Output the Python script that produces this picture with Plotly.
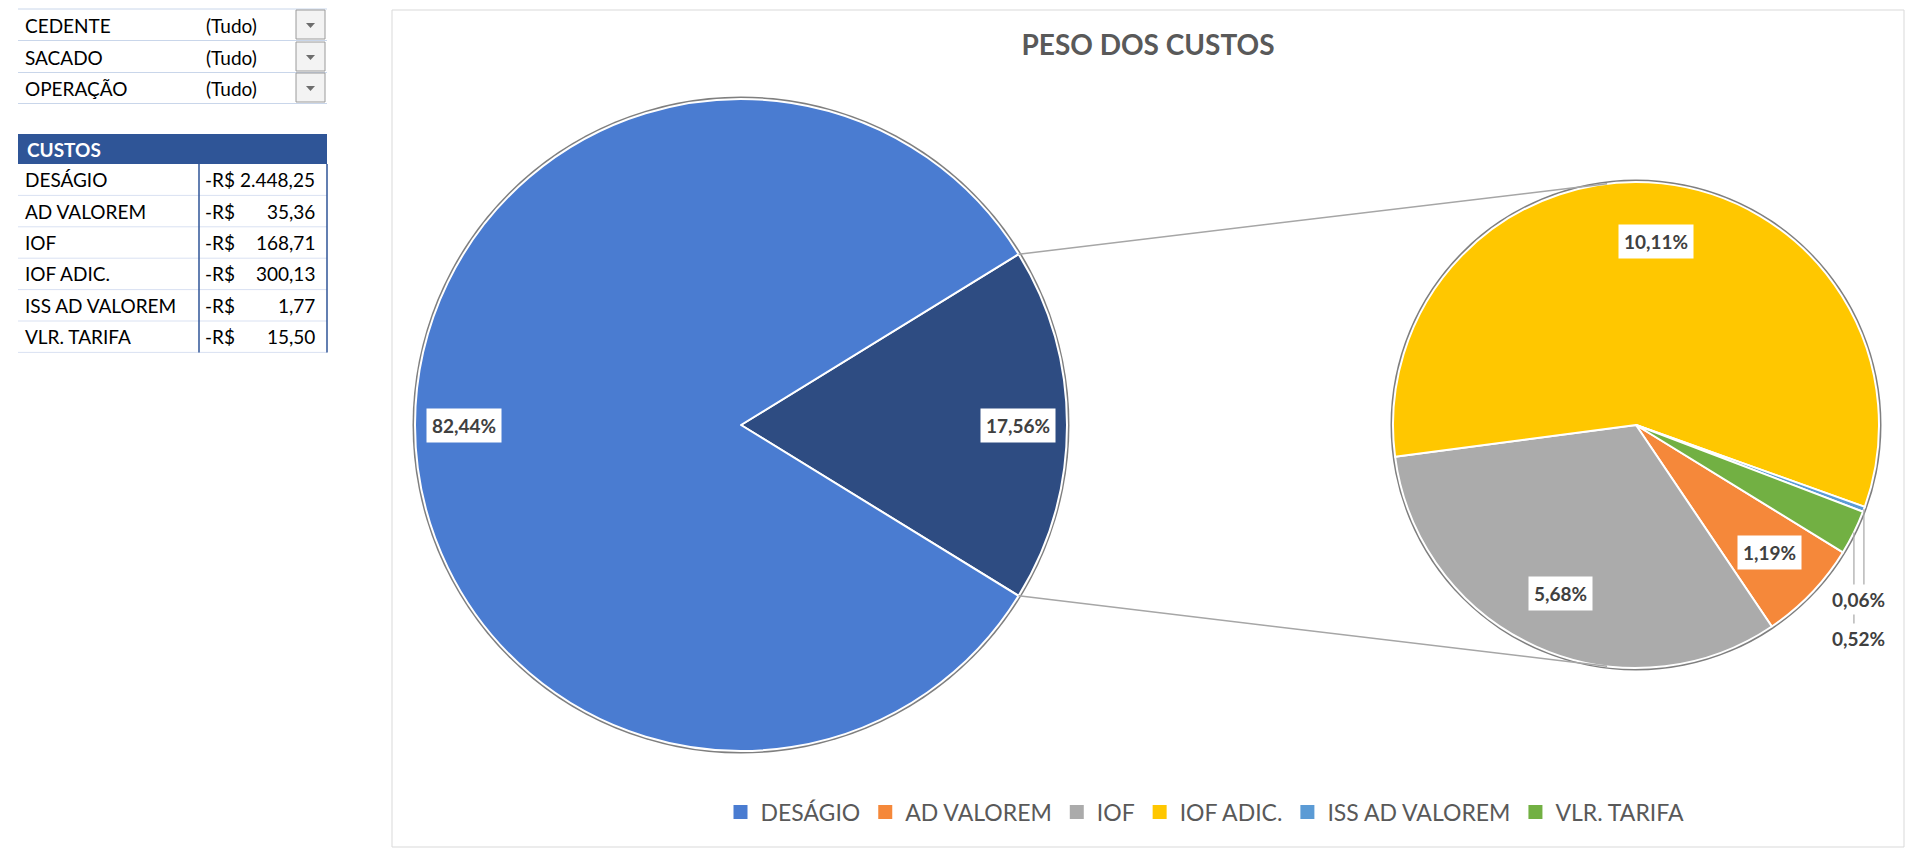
import math
import plotly.graph_objects as go

W, H = 1920, 863

# ---------------- data ----------------
filter_labels = ["CEDENTE", "SACADO", "OPERAÇÃO"]
filter_values = ["(Tudo)", "(Tudo)", "(Tudo)"]
cost_header = "CUSTOS"
cost_labels = ["DESÁGIO", "AD VALOREM", "IOF", "IOF ADIC.", "ISS AD VALOREM", "VLR. TARIFA"]
cost_values = [2448.25, 35.36, 168.71, 300.13, 1.77, 15.50]
chart_title = "PESO DOS CUSTOS"
main_category = "DESÁGIO"
other_label = "Outros"
secondary_categories = ["AD VALOREM", "IOF", "IOF ADIC.", "ISS AD VALOREM", "VLR. TARIFA"]

# ---------------- style ----------------
FONT = "Lato"
slice_colors = {
    "DESÁGIO": "#4A7CD1",
    "AD VALOREM": "#F5883A",
    "IOF": "#ABABAB",
    "IOF ADIC.": "#FFC700",
    "ISS AD VALOREM": "#5B9BD5",
    "VLR. TARIFA": "#72B043",
}
other_color = "#2E4C82"
label_color = "#404040"
text_gray = "#595959"

MAIN_C, MAIN_R = (741, 425), 326
SEC_C, SEC_R = (1636, 425), 243


def px(x):
    return x / W


def py(y):
    return 1 - y / H


def fmt_br(v, dec=2):
    s = f"{v:,.{dec}f}"
    return s.replace(",", "X").replace(".", ",").replace("X", ".")


def domain(c, r):
    return dict(x=[px(c[0] - r), px(c[0] + r)], y=[py(c[1] + r), py(c[1] - r)])


def point(c, r, ang):
    a = math.radians(ang)
    return (c[0] + r * math.sin(a), c[1] - r * math.cos(a))


def mids(values, rotation):
    tot = sum(values)
    cur = rotation
    out = []
    for v in values:
        w = 360 * v / tot
        out.append(cur + w / 2)
        cur += w
    return out


val = dict(zip(cost_labels, cost_values))
total = sum(cost_values)
sec_values = [val[k] for k in secondary_categories]
other_total = sum(sec_values)
half_w = 180 * other_total / total

main_labels = [other_label, main_category]
main_values = [other_total, val[main_category]]
main_rot = 90 - half_w
sec_rot = 90 + half_w

fig = go.Figure()

fig.add_trace(go.Pie(
    labels=main_labels, values=main_values, sort=False, direction="clockwise",
    rotation=main_rot, domain=domain(MAIN_C, MAIN_R), textinfo="none",
    marker=dict(colors=[other_color, slice_colors[main_category]], line=dict(color="white", width=2)),
    showlegend=False, hoverinfo="label+percent",
))
fig.add_trace(go.Pie(
    labels=secondary_categories, values=sec_values, sort=False, direction="clockwise",
    rotation=sec_rot, domain=domain(SEC_C, SEC_R), textinfo="none",
    marker=dict(colors=[slice_colors[k] for k in secondary_categories], line=dict(color="white", width=2)),
    showlegend=False, hoverinfo="label+value",
))

# legend entries
for lab in cost_labels:
    fig.add_trace(go.Scatter(
        x=[None], y=[None], mode="markers", name=lab,
        marker=dict(symbol="square", size=14, color=slice_colors[lab]),
    ))

shapes = []
annotations = []

# chart frame
shapes.append(dict(type="rect", xref="paper", yref="paper", x0=px(392), x1=px(1904), y0=py(847), y1=py(10),
                   line=dict(color="#D9D9D9", width=1), layer="below"))

# gray rims under the pies
for c, r in [(MAIN_C, MAIN_R), (SEC_C, SEC_R)]:
    shapes.append(dict(type="circle", xref="paper", yref="paper",
                       x0=px(c[0] - r - 2.5), x1=px(c[0] + r + 2.5), y0=py(c[1] + r + 2.5), y1=py(c[1] - r - 2.5),
                       fillcolor="#7F7F7F", line=dict(width=0), layer="below"))


def pct_text(v):
    return fmt_br(100 * v / total) + "%"


def label_ann(x, y, text, pad=5):
    annotations.append(dict(
        x=px(x), y=py(y), xref="paper", yref="paper", text=f"<b>{text}</b>", showarrow=False,
        font=dict(family=FONT, size=19, color=label_color), bgcolor="white", borderpad=pad,
        xanchor="center", yanchor="middle"))


# main pie labels
for lab, v, m in zip(main_labels, main_values, mids(main_values, main_rot)):
    x, y = point(MAIN_C, MAIN_R * 0.85, m)
    label_ann(x, y, pct_text(v))

# secondary pie labels
sec_mids = mids(sec_values, sec_rot)
outside = []
for lab, v, m in zip(secondary_categories, sec_values, sec_mids):
    if v / total < 0.01:
        outside.append((lab, v, m))
        continue
    x, y = point(SEC_C, SEC_R * 0.76, m)
    label_ann(x, y, pct_text(v))

if outside:
    edges = [point(SEC_C, SEC_R, m) for _, _, m in outside]
    lx = sum(e[0] for e in edges) / len(edges)
    for k, ((lab, v, m), e) in enumerate(zip(outside, edges)):
        ly = SEC_C[1] + SEC_R * 0.72 + k * 39
        shapes.append(dict(type="line", xref="paper", yref="paper", x0=px(e[0]), x1=px(e[0]),
                           y0=py(e[1]), y1=py(ly - 13), line=dict(color="#A6A6A6", width=1.2)))
        annotations.append(dict(
            x=px(lx), y=py(ly), xref="paper", yref="paper", text=f"<b>{pct_text(v)}</b>", showarrow=False,
            font=dict(family=FONT, size=19, color=label_color), bgcolor="white", borderpad=3,
            xanchor="center", yanchor="middle"))


# connector lines between pies (tangent to the secondary pie)
def tangents(p, c, r):
    dx, dy = p[0] - c[0], p[1] - c[1]
    d = math.hypot(dx, dy)
    phi = math.atan2(dy, dx)
    a = math.acos(r / d)
    return [(c[0] + r * math.cos(phi + s * a), c[1] + r * math.sin(phi + s * a)) for s in (1, -1)]


p_top = point(MAIN_C, MAIN_R, 90 - half_w)
p_bot = point(MAIN_C, MAIN_R, 90 + half_w)
t_top = min(tangents(p_top, SEC_C, SEC_R), key=lambda t: t[1])
t_bot = max(tangents(p_bot, SEC_C, SEC_R), key=lambda t: t[1])
for p, t in [(p_top, t_top), (p_bot, t_bot)]:
    shapes.append(dict(type="line", xref="paper", yref="paper", x0=px(p[0]), y0=py(p[1]), x1=px(t[0]), y1=py(t[1]),
                       line=dict(color="#A6A6A6", width=1.5)))

# ---------------- spreadsheet area ----------------
TABLE_X0, TABLE_X1 = 18, 327
LIGHT_LINE = "#C9D6EA"
DARK_BLUE = "#2F5597"
CELL_FONT = dict(family=FONT, size=19, color="black")
filter_row_centers = [25, 57, 88]
shapes.append(dict(type="line", xref="paper", yref="paper", x0=px(TABLE_X0), x1=px(TABLE_X1),
                   y0=py(9), y1=py(9), line=dict(color=LIGHT_LINE, width=1)))
for lab, v, yc in zip(filter_labels, filter_values, filter_row_centers):
    annotations.append(dict(x=px(23), y=py(yc), xref="paper", yref="paper", text=lab, showarrow=False,
                            xanchor="left", yanchor="middle", font=CELL_FONT))
    annotations.append(dict(x=px(204), y=py(yc), xref="paper", yref="paper", text=v, showarrow=False,
                            xanchor="left", yanchor="middle", font=CELL_FONT))
    shapes.append(dict(type="line", xref="paper", yref="paper", x0=px(TABLE_X0), x1=px(TABLE_X1),
                       y0=py(yc + 15.5), y1=py(yc + 15.5), line=dict(color=LIGHT_LINE, width=1)))
    shapes.append(dict(type="rect", xref="paper", yref="paper", x0=px(296), x1=px(325),
                       y0=py(yc + 14), y1=py(yc - 15), fillcolor="#F3F3F3", line=dict(color="#9A9A9A", width=1)))
    shapes.append(dict(type="path", xref="paper", yref="paper",
                       path=f"M {px(306)} {py(yc - 2)} L {px(315)} {py(yc - 2)} L {px(310.5)} {py(yc + 3)} Z",
                       fillcolor="#6D6D6D", line=dict(width=0)))

HEAD_Y0, HEAD_Y1 = 134, 164
ROW_H = 31.4
shapes.append(dict(type="rect", xref="paper", yref="paper", x0=px(TABLE_X0), x1=px(TABLE_X1),
                   y0=py(HEAD_Y1), y1=py(HEAD_Y0), fillcolor=DARK_BLUE, line=dict(width=0)))
annotations.append(dict(x=px(25), y=py((HEAD_Y0 + HEAD_Y1) / 2), xref="paper", yref="paper",
                        text=f"<b>{cost_header}</b>", showarrow=False, xanchor="left", yanchor="middle",
                        font=dict(family=FONT, size=19, color="white")))
for i, (lab, v) in enumerate(zip(cost_labels, cost_values)):
    yc = HEAD_Y1 + ROW_H * (i + 0.5)
    annotations.append(dict(x=px(23), y=py(yc), xref="paper", yref="paper", text=lab, showarrow=False,
                            xanchor="left", yanchor="middle", font=CELL_FONT))
    annotations.append(dict(x=px(203), y=py(yc), xref="paper", yref="paper", text="-R$", showarrow=False,
                            xanchor="left", yanchor="middle", font=CELL_FONT))
    annotations.append(dict(x=px(317), y=py(yc), xref="paper", yref="paper", text=fmt_br(v), showarrow=False,
                            xanchor="right", yanchor="middle", font=CELL_FONT))
    yl = HEAD_Y1 + ROW_H * (i + 1)
    shapes.append(dict(type="line", xref="paper", yref="paper", x0=px(TABLE_X0), x1=px(TABLE_X1),
                       y0=py(yl), y1=py(yl), line=dict(color="#D9E1F2", width=1)))
table_bottom = HEAD_Y1 + ROW_H * len(cost_labels)
for xv in (199, 327):
    shapes.append(dict(type="line", xref="paper", yref="paper", x0=px(xv), x1=px(xv),
                       y0=py(HEAD_Y1), y1=py(table_bottom), line=dict(color=DARK_BLUE, width=1.5)))

fig.update_layout(
    width=W, height=H,
    margin=dict(l=0, r=0, t=0, b=0),
    paper_bgcolor="white", plot_bgcolor="white",
    title=dict(text=f"<b>{chart_title}</b>", x=px(1148), y=py(45), xanchor="center", yanchor="middle",
               font=dict(family=FONT, size=28, color=text_gray)),
    xaxis=dict(visible=False), yaxis=dict(visible=False),
    legend=dict(orientation="h", x=px(1205), xanchor="center", y=py(812), yanchor="middle",
                font=dict(family=FONT, size=23, color=text_gray), itemwidth=30, bgcolor="rgba(0,0,0,0)"),
    shapes=shapes, annotations=annotations,
    font=dict(family=FONT),
)

fig.write_html("out.html")
